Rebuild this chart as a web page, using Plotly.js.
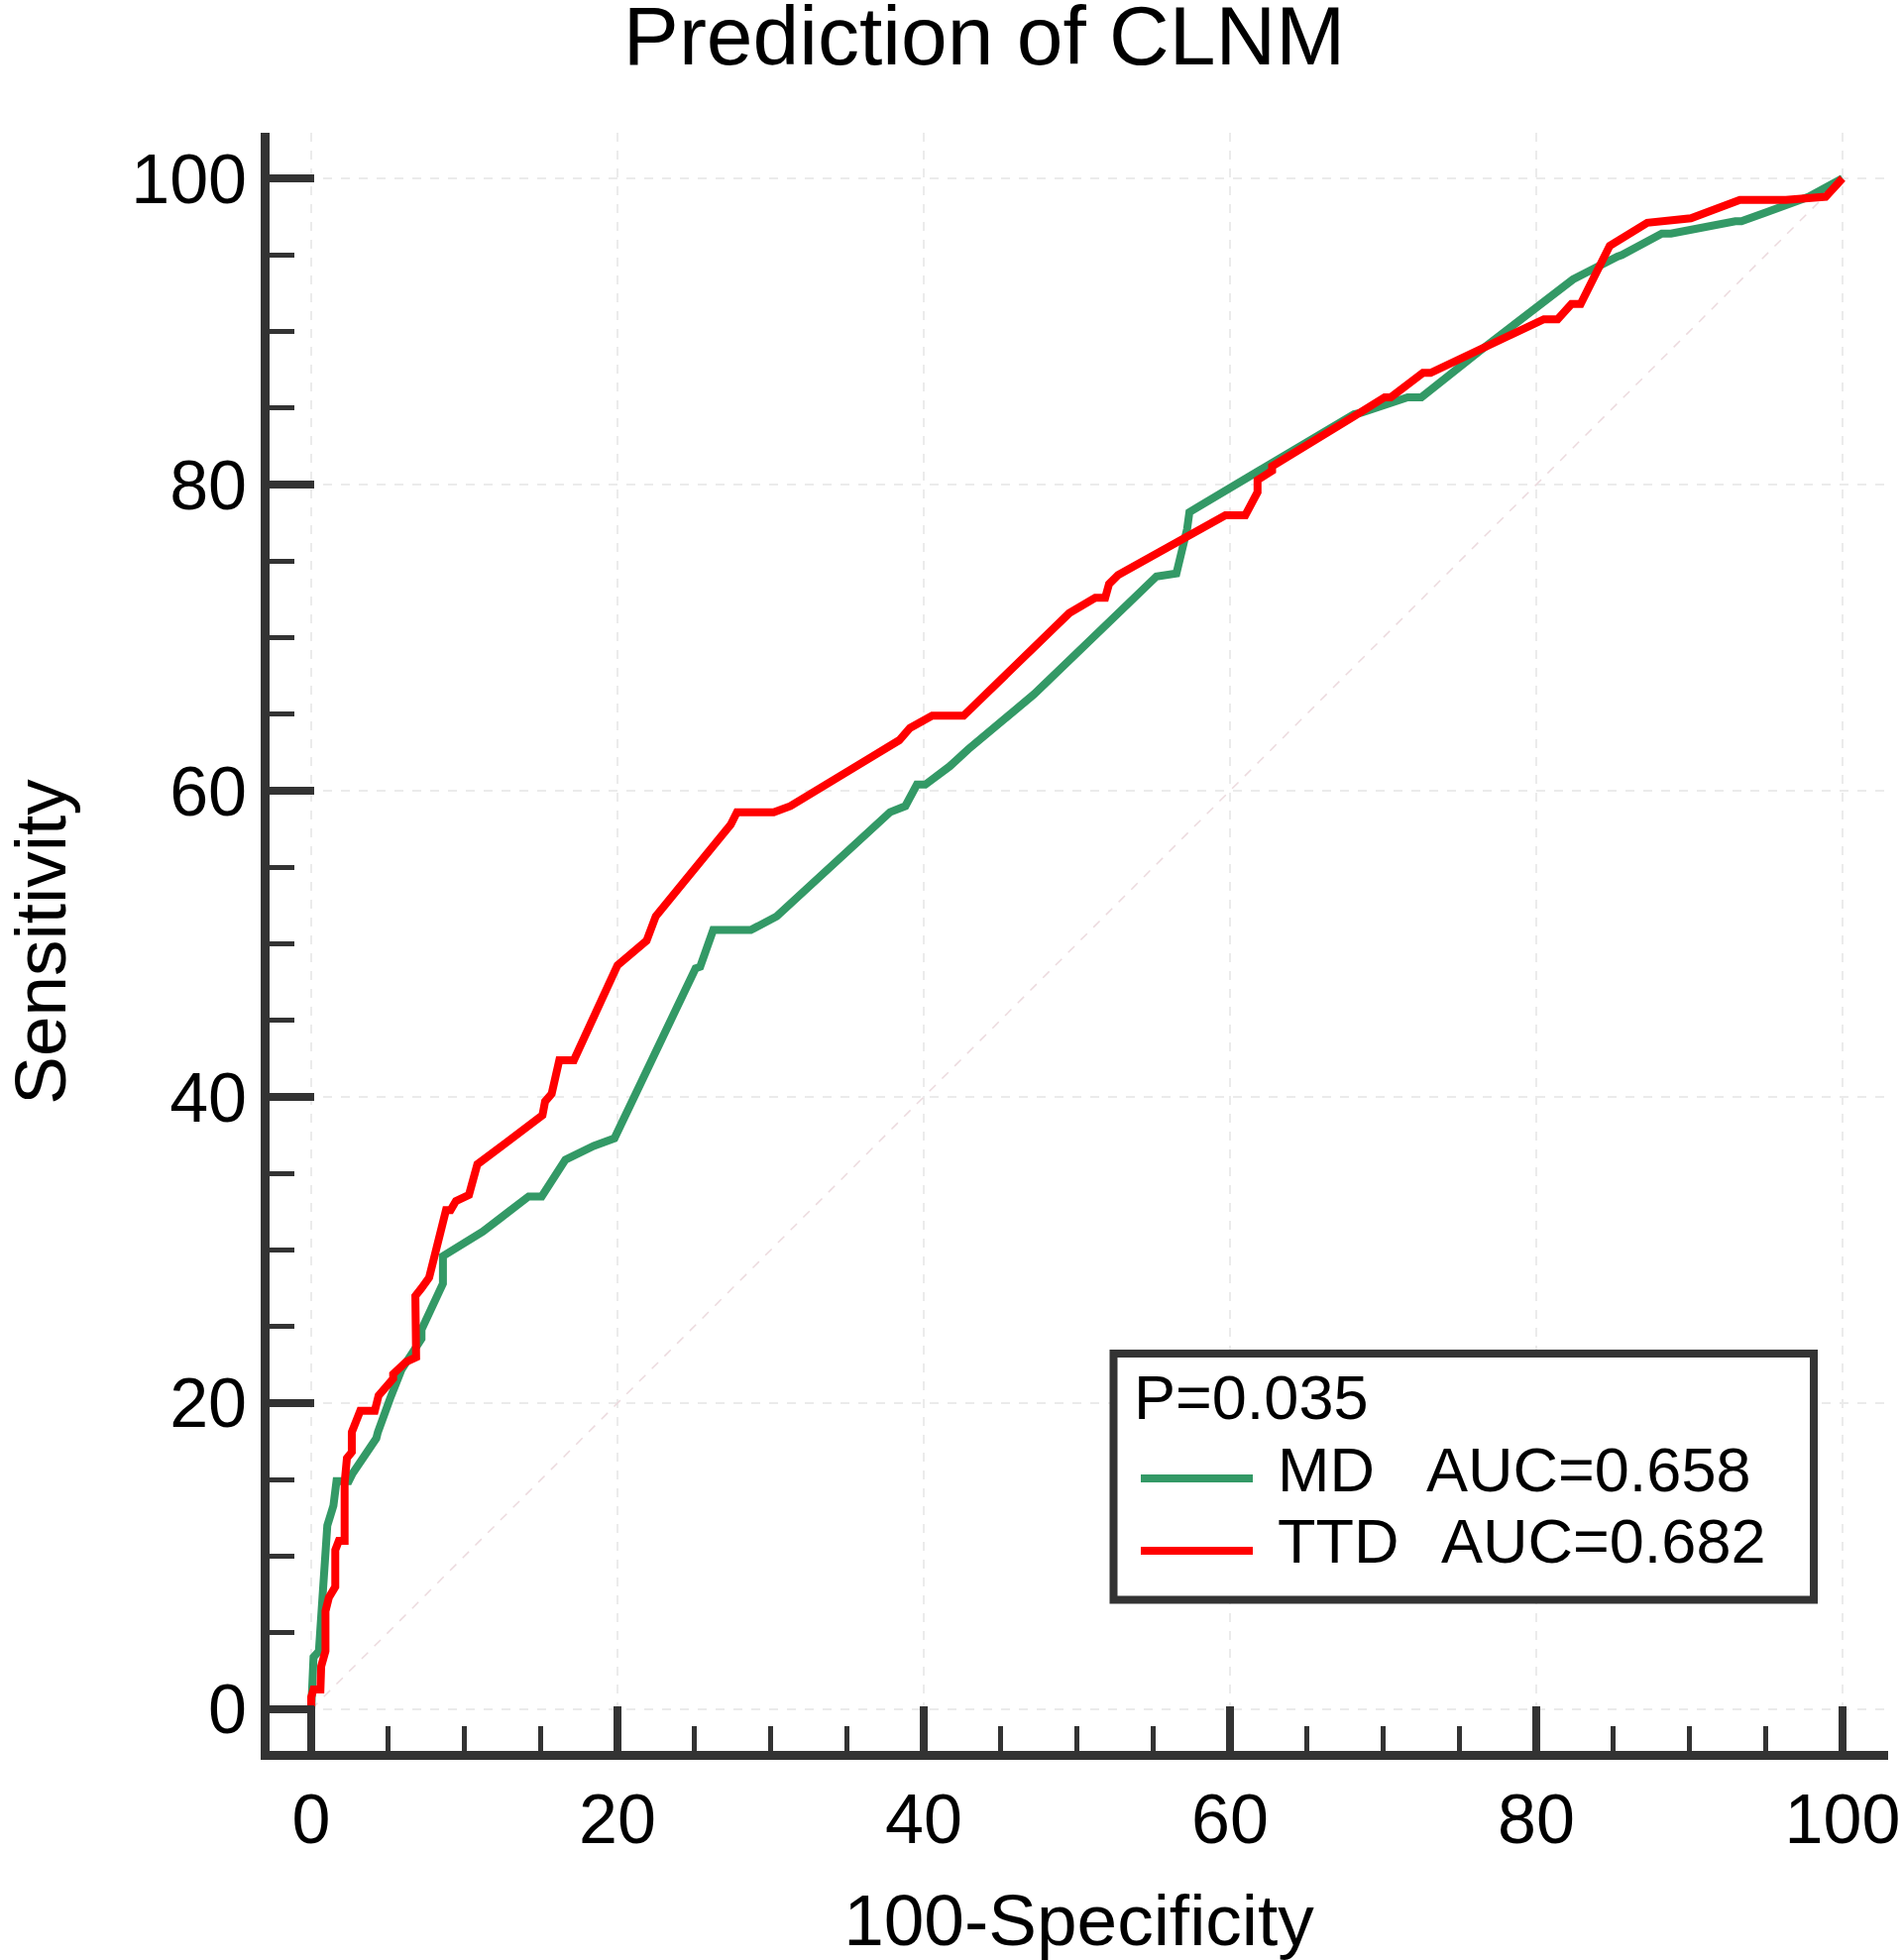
<!DOCTYPE html>
<html>
<head>
<meta charset="utf-8">
<script src="https://cdn.plot.ly/plotly-3.0.1.min.js"></script>
<style>html,body{margin:0;padding:0;background:#fff;}</style>
</head>
<body>
<div id="chart" style="width:1919px;height:1978px;"></div>
<script>
// ---------------- data ----------------
const mdX = [0, 0.1, 0.15, 0.5, 1.05, 1.45, 1.65, 2.45, 2.7, 4.25, 4.35, 5.15, 5.9, 7.2, 7.2, 8.6, 8.6, 11.2, 14.2, 15.05, 16.6, 18.45, 19.8, 25.1, 25.4, 26.25, 28.7, 30.4, 37.8, 38.8, 39.55, 40.1, 41.7, 42.9, 47.2, 55.2, 56.5, 57.2, 57.35, 68.1, 68.6, 71.6, 72.5, 76.4, 81.2, 82.4, 85.3, 85.6, 88.2, 88.8, 93.0, 93.4, 97.8, 100];
const mdY = [0, 3.3, 3.4, 3.8, 12.0, 13.3, 14.9, 14.9, 15.4, 17.7, 18.1, 20.3, 22.2, 24.2, 24.8, 27.8, 29.6, 31.2, 33.5, 33.5, 35.9, 36.8, 37.3, 48.4, 48.5, 50.9, 50.9, 51.8, 58.6, 59.0, 60.4, 60.4, 61.6, 62.7, 66.3, 74.0, 74.2, 77.1, 78.2, 84.6, 84.7, 85.7, 85.7, 88.8, 92.6, 93.4, 94.9, 95.0, 96.4, 96.4, 97.2, 97.2, 98.8, 100];

const ttdX = [0, 0, 0.15, 0.6, 0.65, 0.93, 0.93, 1.15, 1.57, 1.57, 1.8, 2.18, 2.18, 2.33, 2.65, 2.65, 3.2, 4.15, 4.4, 5.35, 5.35, 6.2, 6.85, 6.8, 7.2, 7.7, 8.8, 9.1, 9.45, 10.3, 10.85, 11.4, 15.1, 15.27, 15.7, 16.2, 17.15, 20.0, 21.9, 22.5, 27.4, 27.8, 30.2, 31.3, 38.4, 39.1, 40.55, 42.6, 49.5, 51.2, 51.85, 52.1, 52.7, 59.7, 61.0, 61.8, 61.8, 62.75, 62.75, 68.0, 70.1, 70.5, 72.6, 73.1, 76.4, 80.5, 81.4, 82.3, 82.9, 84.2, 84.8, 87.25, 90.1, 93.3, 96.3, 98.9, 100];
const ttdY = [0, 0.8, 1.3, 1.3, 2.8, 3.8, 6.4, 7.3, 8.0, 10.4, 11.0, 11.0, 14.8, 16.4, 16.8, 18.1, 19.5, 19.5, 20.5, 21.6, 21.9, 22.7, 23.0, 27.0, 27.5, 28.2, 32.6, 32.6, 33.2, 33.6, 35.6, 36.0, 38.8, 39.7, 40.2, 42.4, 42.4, 48.6, 50.2, 51.8, 57.8, 58.6, 58.6, 59.0, 63.3, 64.1, 64.9, 64.9, 71.6, 72.6, 72.6, 73.5, 74.1, 78.0, 78.0, 79.5, 80.3, 80.9, 81.2, 84.4, 85.7, 85.7, 87.3, 87.3, 88.9, 90.8, 90.8, 91.8, 91.8, 94.5, 95.6, 97.1, 97.4, 98.6, 98.6, 98.8, 100];

const refX = [0, 100];
const refY = [0, 100];

const seriesNames = ['MD', 'TTD'];
const aucLabels = ['AUC=0.658', 'AUC=0.682'];
const pLabel = 'P=0.035';
const chartTitle = 'Prediction of CLNM';
const xTitle = '100-Specificity';
const yTitle = 'Sensitivity';
const tickVals = [0, 20, 40, 60, 80, 100];
const tickText = ['0', '20', '40', '60', '80', '100'];

// ---------------- styling ----------------
const F = 'Liberation Sans, Arial, Helvetica, sans-serif';
const colors = ['#339966', '#ff0000'];
const W = 1919, H = 1978, L = 272, R = 14, T = 134, B = 211;
const pw = W - L - R, ph = H - T - B;
const pxX = p => (p - L) / pw;
const pxY = p => (H - B - p) / ph;

const traces = [
  {x: refX, y: refY, mode: 'lines', line: {color: 'rgb(236,218,222)', width: 1.5, dash: 'dash'}, hoverinfo: 'skip', showlegend: false},
  {x: mdX, y: mdY, mode: 'lines', name: seriesNames[0], line: {color: colors[0], width: 8}, showlegend: false},
  {x: ttdX, y: ttdY, mode: 'lines', name: seriesNames[1], line: {color: colors[1], width: 8}, showlegend: false}
];

function axis(titleText, auto, standoff) {
  const a = {
    range: [-2.72, 102.98],
    tickmode: 'array', tickvals: tickVals, ticktext: tickText,
    ticks: 'inside', ticklen: 45, tickwidth: 8, tickcolor: '#333',
    showline: true, linewidth: 9, linecolor: '#333',
    showgrid: true, gridcolor: '#ebebeb', gridwidth: 1.5, griddash: 'dash',
    zeroline: false,
    minor: {tickmode: 'linear', tick0: 0, dtick: 5, ticks: 'inside', ticklen: 25, tickwidth: 5, tickcolor: '#333', showgrid: false},
    tickfont: {family: F, size: 70, color: '#000'},
    title: {text: titleText, font: {family: F, size: 73, color: '#000'}},
    automargin: auto,
    fixedrange: true
  };
  if (auto) a.title.standoff = standoff;
  return a;
}

const rowY = [1492, 1565];
const rowTextY = [1483, 1555];
const aucX = [1439, 1454];

const shapes = [
  {type: 'rect', xref: 'paper', yref: 'paper', x0: pxX(1123.5), x1: pxX(1830), y0: pxY(1614.5), y1: pxY(1366),
   line: {color: '#333', width: 8}, fillcolor: 'rgba(255,255,255,1)', layer: 'above'}
];
const annotations = [
  {text: pLabel, xref: 'paper', yref: 'paper', x: pxX(1142), y: pxY(1410), xanchor: 'left', yanchor: 'middle', showarrow: false, font: {family: F, size: 63, color: '#000'}}
];
seriesNames.forEach((n, i) => {
  shapes.push({type: 'line', xref: 'paper', yref: 'paper', x0: pxX(1151), x1: pxX(1264), y0: pxY(rowY[i]), y1: pxY(rowY[i]),
    line: {color: colors[i], width: 8}, layer: 'above'});
  annotations.push({text: n, xref: 'paper', yref: 'paper', x: pxX(1287), y: pxY(rowTextY[i]), xanchor: 'left', yanchor: 'middle', showarrow: false, font: {family: F, size: 63, color: '#000'}});
  annotations.push({text: aucLabels[i], xref: 'paper', yref: 'paper', x: pxX(aucX[i] - 2), y: pxY(rowTextY[i]), xanchor: 'left', yanchor: 'middle', showarrow: false, font: {family: F, size: 63, color: '#000'}});
});

const layout = {
  width: W, height: H,
  margin: {l: L, r: R, t: T, b: B, pad: 0, autoexpand: false},
  paper_bgcolor: '#fff', plot_bgcolor: '#fff',
  title: {text: chartTitle, font: {family: F, size: 84, color: '#000'}, xref: 'container', yref: 'container', x: 993 / W, xanchor: 'center', y: 1 - 36 / H, yanchor: 'middle'},
  xaxis: axis(xTitle, false, 0),
  yaxis: axis(yTitle, true, 80),
  showlegend: false,
  shapes: shapes,
  annotations: annotations
};

Plotly.newPlot('chart', traces, layout, {staticPlot: true, displayModeBar: false});
</script>
</body>
</html>
